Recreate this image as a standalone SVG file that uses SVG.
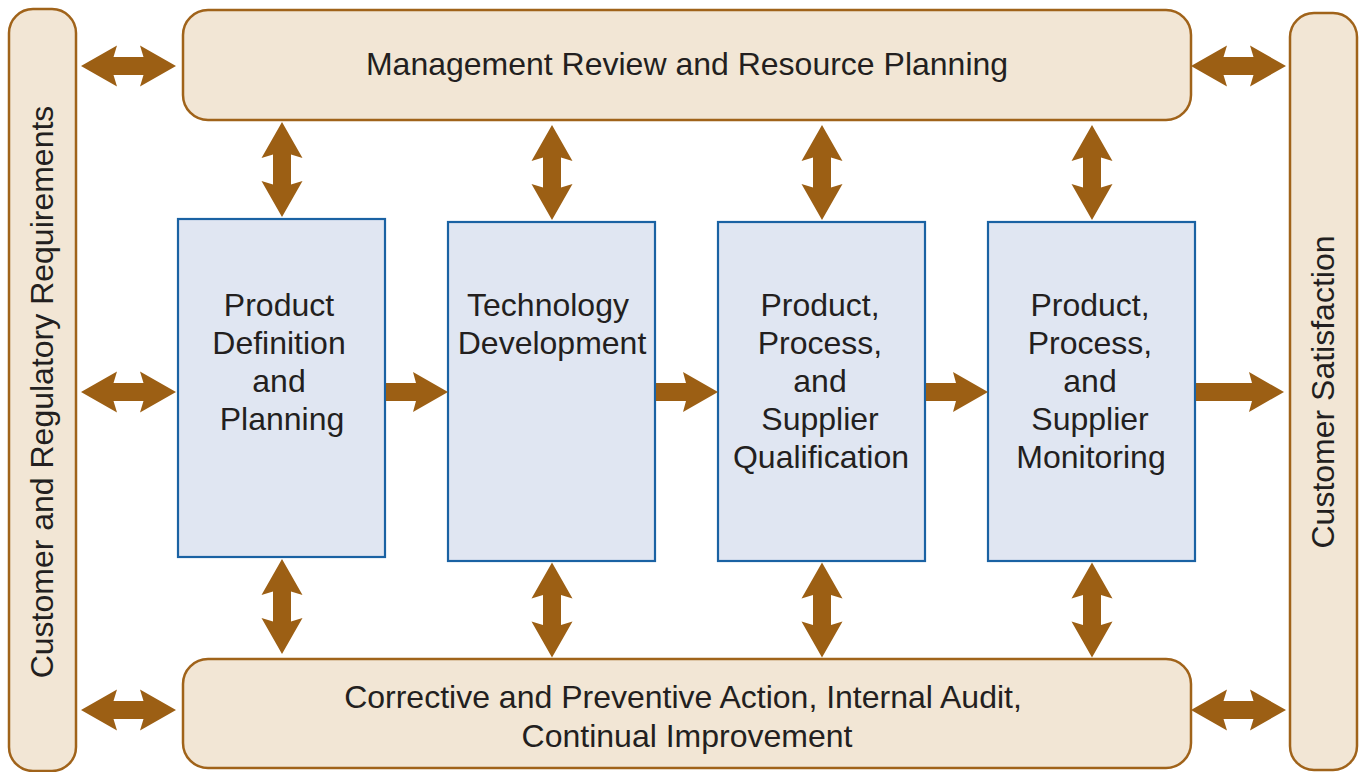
<svg xmlns="http://www.w3.org/2000/svg" width="1359" height="772" viewBox="0 0 1359 772">
<style>
.panel{fill:#f2e6d5;stroke:#a0631a;stroke-width:2.5}
.box{fill:#e0e6f2;stroke:#1a62a3;stroke-width:2.2}
.arr{fill:#9c5f14}
text{font-family:"Liberation Sans",Arial,sans-serif;font-size:32px;fill:#231f20;text-anchor:middle}
</style>
<defs>
<path id="dbl" d="M-47.5,0 L-11.5,-20.5 L-15,-9 L15,-9 L11.5,-20.5 L47.5,0 L11.5,20.5 L15,9 L-15,9 L-11.5,20.5 Z"/>
</defs>
<g id="left-panel">
<rect class="panel" x="9" y="9" width="67" height="762" rx="24"/>
<text transform="translate(53,392) rotate(-90)">Customer and Regulatory Requirements</text>
</g>
<g id="right-panel">
<rect class="panel" x="1290" y="13" width="67" height="757" rx="24"/>
<text transform="translate(1334,392) rotate(-90)">Customer Satisfaction</text>
</g>
<g id="top-box">
<rect class="panel" x="183" y="10" width="1008" height="110" rx="25"/>
<text x="687" y="75">Management Review and Resource Planning</text>
</g>
<g id="bottom-box">
<rect class="panel" x="183" y="659" width="1008" height="109" rx="25"/>
<text x="683" y="708">Corrective and Preventive Action, Internal Audit,</text>
<text x="687" y="747">Continual Improvement</text>
</g>
<g id="box1">
<rect class="box" x="178" y="219" width="207" height="338"/>
<text x="279" y="316">Product</text>
<text x="279" y="354">Definition</text>
<text x="279" y="392">and</text>
<text x="282" y="430">Planning</text>
</g>
<g id="box2">
<rect class="box" x="448" y="222" width="207" height="339"/>
<text x="548" y="316">Technology</text>
<text x="552" y="354">Development</text>
</g>
<g id="box3">
<rect class="box" x="718" y="222" width="207" height="339"/>
<text x="820" y="316">Product,</text>
<text x="820" y="354">Process,</text>
<text x="820" y="392">and</text>
<text x="820" y="430">Supplier</text>
<text x="821" y="468">Qualification</text>
</g>
<g id="box4">
<rect class="box" x="988" y="222" width="207" height="339"/>
<text x="1090" y="316">Product,</text>
<text x="1090" y="354">Process,</text>
<text x="1090" y="392">and</text>
<text x="1090" y="430">Supplier</text>
<text x="1091" y="468">Monitoring</text>
</g>
<g id="connectors" class="arr">
<use href="#dbl" transform="translate(128.5,66)"/>
<use href="#dbl" transform="translate(128.5,392)"/>
<use href="#dbl" transform="translate(128.5,710)"/>
<use href="#dbl" transform="translate(1238.5,66)"/>
<use href="#dbl" transform="translate(1238.5,710)"/>
<use href="#dbl" transform="translate(282,169.5) rotate(90)"/>
<use href="#dbl" transform="translate(552,172.5) rotate(90)"/>
<use href="#dbl" transform="translate(822,172.5) rotate(90)"/>
<use href="#dbl" transform="translate(1092,172.5) rotate(90)"/>
<use href="#dbl" transform="translate(282,606.5) rotate(90)"/>
<use href="#dbl" transform="translate(552,610) rotate(90)"/>
<use href="#dbl" transform="translate(822,610) rotate(90)"/>
<use href="#dbl" transform="translate(1092,610) rotate(90)"/>
<path d="M386,383 L416,383 L413,372 L448,392 L413,412 L416,401 L386,401 Z"/>
<path d="M656,383 L686,383 L683,372 L718,392 L683,412 L686,401 L656,401 Z"/>
<path d="M926,383 L956,383 L953,372 L988,392 L953,412 L956,401 L926,401 Z"/>
<path d="M1196,383 L1252,383 L1249,372 L1284,392 L1249,412 L1252,401 L1196,401 Z"/>
</g>
</svg>
